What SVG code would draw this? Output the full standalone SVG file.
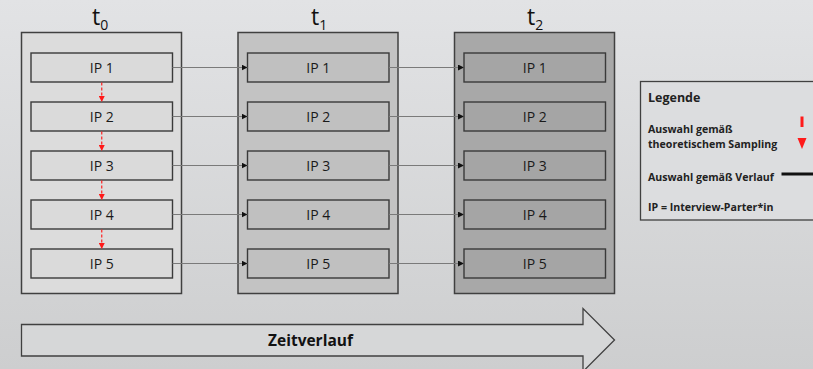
<svg xmlns="http://www.w3.org/2000/svg" width="813" height="369" viewBox="0 0 813 369">
  <defs>
    <linearGradient id="bg" x1="0" y1="0" x2="0" y2="1">
      <stop offset="0" stop-color="#e2e3e5"/>
      <stop offset="1" stop-color="#cdcecf"/>
    </linearGradient>
    <marker id="arrowBlack" viewBox="0 0 6 6" refX="6" refY="3" markerWidth="6" markerHeight="6" markerUnits="userSpaceOnUse" orient="auto">
      <path d="M0,0 L6,3 L0,6 Z" fill="#111"/>
    </marker>
    <marker id="arrowRed" viewBox="0 0 6 6" refX="6" refY="3" markerWidth="6" markerHeight="6" markerUnits="userSpaceOnUse" orient="auto">
      <path d="M0,0 L6,3 L0,6 Z" fill="#ff1a1a"/>
    </marker>
  </defs>
  <style>
    .col { stroke: #404040; stroke-width: 1.5; }
    .ip { stroke: #3a3a3a; stroke-width: 1.4; }
    .c0 { fill: #dcdcdc; }
    .c1 { fill: #c3c3c3; }
    .c2 { fill: #a8a8a8; }
    .i0 { fill: #dadada; }
    .i1 { fill: #c0c0c0; }
    .i2 { fill: #a5a5a5; }
    .lbl { font-family: "Open Sans", "Liberation Sans", sans-serif; font-size: 14px; fill: #1a1a1a; text-anchor: middle; }
    .ttl { font-family: "Open Sans", "Liberation Sans", sans-serif; font-size: 23px; fill: #111; }
    .sub { font-size: 14px; }
    .flow { stroke: #7a7a7a; stroke-width: 1; fill: none; marker-end: url(#arrowBlack); }
    .samp { stroke: #ff2020; stroke-width: 1.2; stroke-dasharray: 3 2; fill: none; marker-end: url(#arrowRed); }
    .leg { font-family: "Open Sans", "Liberation Sans", sans-serif; font-weight: bold; fill: #222; }
  </style>

  <rect x="0" y="0" width="813" height="369" fill="url(#bg)"/>

  <!-- time step t0 -->
  <g id="t0">
    <text class="ttl" x="92" y="25">t<tspan class="sub" dy="5">0</tspan></text>
    <rect class="col c0" x="21.5" y="32.5" width="160" height="261"/>
    <g id="t0-ip1"><rect class="ip i0" x="31" y="53" width="141.5" height="29"/><text class="lbl" x="101.75" y="72.5">IP 1</text></g>
    <g id="t0-ip2"><rect class="ip i0" x="31" y="102" width="141.5" height="29"/><text class="lbl" x="101.75" y="121.5">IP 2</text></g>
    <g id="t0-ip3"><rect class="ip i0" x="31" y="151" width="141.5" height="29"/><text class="lbl" x="101.75" y="170.5">IP 3</text></g>
    <g id="t0-ip4"><rect class="ip i0" x="31" y="200" width="141.5" height="29"/><text class="lbl" x="101.75" y="219.5">IP 4</text></g>
    <g id="t0-ip5"><rect class="ip i0" x="31" y="249" width="141.5" height="29"/><text class="lbl" x="101.75" y="268.5">IP 5</text></g>
  </g>

  <!-- time step t1 -->
  <g id="t1">
    <text class="ttl" x="311" y="25">t<tspan class="sub" dy="5">1</tspan></text>
    <rect class="col c1" x="238" y="32.5" width="160" height="261"/>
    <g id="t1-ip1"><rect class="ip i1" x="247.5" y="53" width="141.5" height="29"/><text class="lbl" x="318.25" y="72.5">IP 1</text></g>
    <g id="t1-ip2"><rect class="ip i1" x="247.5" y="102" width="141.5" height="29"/><text class="lbl" x="318.25" y="121.5">IP 2</text></g>
    <g id="t1-ip3"><rect class="ip i1" x="247.5" y="151" width="141.5" height="29"/><text class="lbl" x="318.25" y="170.5">IP 3</text></g>
    <g id="t1-ip4"><rect class="ip i1" x="247.5" y="200" width="141.5" height="29"/><text class="lbl" x="318.25" y="219.5">IP 4</text></g>
    <g id="t1-ip5"><rect class="ip i1" x="247.5" y="249" width="141.5" height="29"/><text class="lbl" x="318.25" y="268.5">IP 5</text></g>
  </g>

  <!-- time step t2 -->
  <g id="t2">
    <text class="ttl" x="527" y="25">t<tspan class="sub" dy="5">2</tspan></text>
    <rect class="col c2" x="454.5" y="32.5" width="160" height="261"/>
    <g id="t2-ip1"><rect class="ip i2" x="464" y="53" width="141.5" height="29"/><text class="lbl" x="534.75" y="72.5">IP 1</text></g>
    <g id="t2-ip2"><rect class="ip i2" x="464" y="102" width="141.5" height="29"/><text class="lbl" x="534.75" y="121.5">IP 2</text></g>
    <g id="t2-ip3"><rect class="ip i2" x="464" y="151" width="141.5" height="29"/><text class="lbl" x="534.75" y="170.5">IP 3</text></g>
    <g id="t2-ip4"><rect class="ip i2" x="464" y="200" width="141.5" height="29"/><text class="lbl" x="534.75" y="219.5">IP 4</text></g>
    <g id="t2-ip5"><rect class="ip i2" x="464" y="249" width="141.5" height="29"/><text class="lbl" x="534.75" y="268.5">IP 5</text></g>
  </g>

  <!-- connectors -->
  <g id="connectors">
    <!-- follow-up over time -->
    <line class="flow" x1="172.5" y1="67.5" x2="247.5" y2="67.5"/>
    <line class="flow" x1="172.5" y1="116.5" x2="247.5" y2="116.5"/>
    <line class="flow" x1="172.5" y1="165.5" x2="247.5" y2="165.5"/>
    <line class="flow" x1="172.5" y1="214.5" x2="247.5" y2="214.5"/>
    <line class="flow" x1="172.5" y1="263.5" x2="247.5" y2="263.5"/>
    <line class="flow" x1="389" y1="67.5" x2="464" y2="67.5"/>
    <line class="flow" x1="389" y1="116.5" x2="464" y2="116.5"/>
    <line class="flow" x1="389" y1="165.5" x2="464" y2="165.5"/>
    <line class="flow" x1="389" y1="214.5" x2="464" y2="214.5"/>
    <line class="flow" x1="389" y1="263.5" x2="464" y2="263.5"/>
    <!-- theoretical sampling -->
    <line class="samp" x1="101.75" y1="82.5" x2="101.75" y2="102"/>
    <line class="samp" x1="101.75" y1="131.5" x2="101.75" y2="151"/>
    <line class="samp" x1="101.75" y1="180.5" x2="101.75" y2="200"/>
    <line class="samp" x1="101.75" y1="229.5" x2="101.75" y2="249"/>
  </g>

  <!-- legend -->
  <g id="legend">
    <rect x="640.5" y="81.5" width="180" height="138.5" fill="#dcdddf" stroke="#404040" stroke-width="1.3"/>
    <text class="leg" x="648" y="102" font-size="12.5">Legende</text>
    <text class="leg" x="648" y="133" font-size="10.6">Auswahl gemäß</text>
    <text class="leg" x="648" y="148" font-size="10.6">theoretischem Sampling</text>
    <rect x="800.5" y="116.5" width="3" height="10.5" fill="#ff1a1a"/>
    <path d="M797.5,138 L806.5,138 L802,149 Z" fill="#ff1a1a"/>
    <text class="leg" x="648" y="181" font-size="10.6">Auswahl gemäß Verlauf</text>
    <line x1="781.5" y1="174" x2="813" y2="174" stroke="#111" stroke-width="3"/>
    <text class="leg" x="648" y="211" font-size="10.6">IP = Interview-Parter*in</text>
  </g>

  <!-- time axis -->
  <g id="zeitverlauf">
    <path d="M21.5,324.5 L583,324.5 L583,308.5 L614.5,340 L583,371.5 L583,356 L21.5,356 Z" fill="#d6d7d8" stroke="#404040" stroke-width="1.3"/>
    <text x="310.5" y="346" font-family="Open Sans, Liberation Sans, sans-serif" font-weight="bold" font-size="15.5" fill="#111" text-anchor="middle">Zeitverlauf</text>
  </g>
</svg>
